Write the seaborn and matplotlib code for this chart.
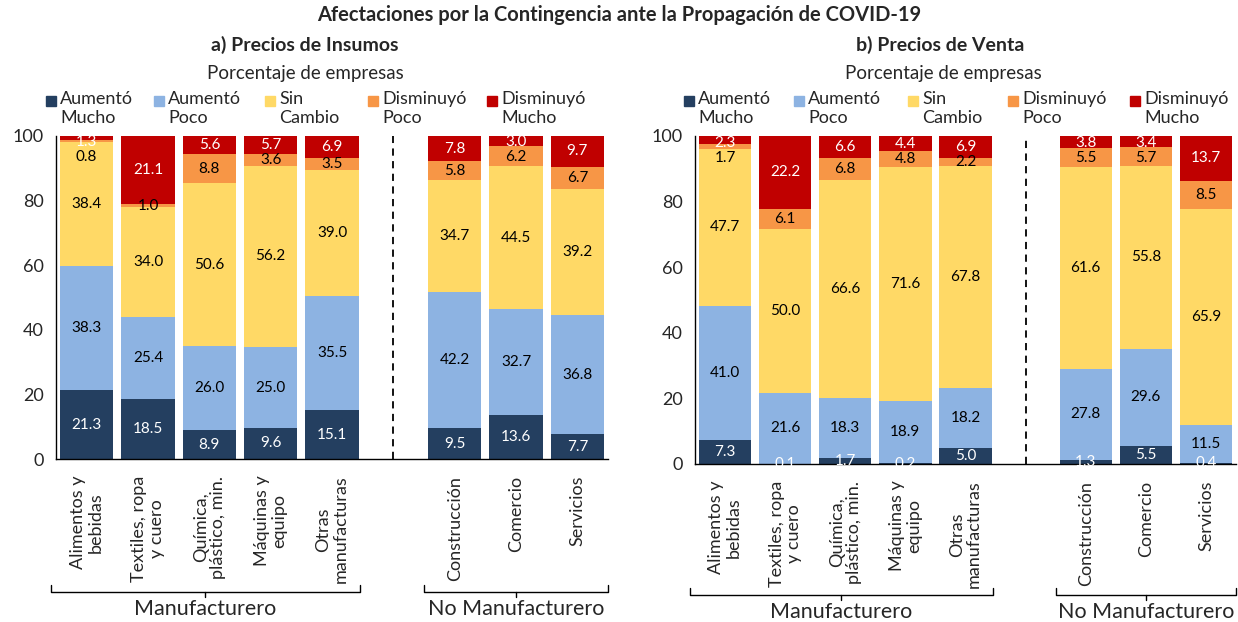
import numpy as np
import pandas as pd
import matplotlib
matplotlib.use('Agg')
import matplotlib.pyplot as plt
import matplotlib.transforms as mtransforms
import seaborn as sns

sectores = ['Alimentos y\nbebidas', 'Textiles, ropa\ny cuero', 'Química,\nplástico, min.',
            'Máquinas y\nequipo', 'Otras\nmanufacturas', 'Construcción', 'Comercio', 'Servicios']
hueco = ' '
orden = sectores[:5] + [hueco] + sectores[5:]
series = ['Aumentó\nMucho', 'Aumentó\nPoco', 'Sin\nCambio', 'Disminuyó\nPoco', 'Disminuyó\nMucho']

# a) Precios de Insumos
ins_aum_mucho = [21.3, 18.5, 8.9, 9.6, 15.1, 9.5, 13.6, 7.7]
ins_aum_poco = [38.3, 25.4, 26.0, 25.0, 35.5, 42.2, 32.7, 36.8]
ins_sin_cambio = [38.4, 34.0, 50.6, 56.2, 39.0, 34.7, 44.5, 39.2]
ins_dis_poco = [0.8, 1.0, 8.8, 3.6, 3.5, 5.8, 6.2, 6.7]
ins_dis_mucho = [1.3, 21.1, 5.6, 5.7, 6.9, 7.8, 3.0, 9.7]

# b) Precios de Venta
ven_aum_mucho = [7.3, 0.1, 1.7, 0.2, 5.0, 1.3, 5.5, 0.4]
ven_aum_poco = [41.0, 21.6, 18.3, 18.9, 18.2, 27.8, 29.6, 11.5]
ven_sin_cambio = [47.7, 50.0, 66.6, 71.6, 67.8, 61.6, 55.8, 65.9]
ven_dis_poco = [1.7, 6.1, 6.8, 4.8, 2.2, 5.5, 5.7, 8.5]
ven_dis_mucho = [2.3, 22.2, 6.6, 4.4, 6.9, 3.8, 3.4, 13.7]

colores = ['#243f60', '#8db3e2', '#ffd966', '#f79646', '#c00000']
color_texto = ['white', 'black', 'black', 'black', 'white']

sns.set_style('white')
plt.rcParams['font.family'] = ['Lato', 'DejaVu Sans']

W, H = 1238, 622
fig = plt.figure(figsize=(W / 100, H / 100), dpi=100)
ax1 = fig.add_axes([56/W, 1-459/H, 552/W, 323/H])
ax2 = fig.add_axes([695/W, 1-464/H, 541/W, 328/H])


def llave(ax, x0, x1, y, h, texto):
    tr = mtransforms.blended_transform_factory(ax.transData, ax.transAxes)
    xm = (x0 + x1) / 2
    ax.plot([x0, x0, x1, x1], [y + h, y, y, y + h], color='black', lw=1, transform=tr, clip_on=False)
    ax.plot([xm, xm], [y, y - h * 0.7], color='black', lw=1, transform=tr, clip_on=False)
    ax.text(xm, y - h * 2.3, texto, transform=tr, ha='center', va='center', fontsize=15.5)


def leyenda(x_cuadros):
    for i, serie in enumerate(series):
        x = x_cuadros[i]
        fig.add_artist(plt.Rectangle((x / W, 1 - 106 / H), 10 / W, 10 / H, color=colores[i],
                                     transform=fig.transFigure))
        fig.text((x + 14) / W, 1 - 91 / H, serie, ha='left', va='top', fontsize=13, linespacing=1.25)


def panel(ax, datos, y_llave):
    df = pd.DataFrame(dict(zip(series, datos)), index=sectores)
    acum = df.cumsum(axis=1)
    for i in range(len(series) - 1, -1, -1):
        sns.barplot(x=sectores, y=acum[series[i]].values, order=orden, color=colores[i],
                    saturation=1, width=0.87, errorbar=None, ax=ax, linewidth=0, edgecolor='none')
    for sector in sectores:
        pos = orden.index(sector)
        prev = None
        for i in range(len(series) - 1, -1, -1):
            serie = series[i]
            v = df.loc[sector, serie]
            yc = acum.loc[sector, serie] - v / 2
            yc = min(yc, 98.0)
            if prev is not None and prev - yc < 4.6:
                yc = prev - 4.6
            prev = yc
            ax.text(pos, yc, f'{v:.1f}', ha='center', va='center',
                    color=color_texto[i], fontsize=11)
    ax.vlines(orden.index(hueco), 0, 100, colors='black', linestyles=(0, (4, 3)), lw=1.3)
    ax.set_ylim(0, 100)
    ax.set_xlim(-0.5, len(orden) - 0.5)
    ax.set_yticks(range(0, 101, 20))
    ax.set_xticks(range(len(orden)))
    ax.set_xticklabels(orden, rotation=90, fontsize=13, ha='center', va='top', linespacing=1.1)
    ax.set_xticks(np.arange(-0.5, len(orden)), minor=True)
    ax.tick_params(axis='x', which='major', length=0, pad=12)
    ax.tick_params(axis='x', which='minor', length=7, width=1, color='black', direction='out')
    ax.tick_params(axis='y', length=6, width=1, color='black', direction='out', labelsize=13, pad=3)
    ax.set_xlabel('')
    ax.set_ylabel('')
    sns.despine(ax=ax)
    for lado in ['left', 'bottom']:
        ax.spines[lado].set_color('black')
        ax.spines[lado].set_linewidth(1)
    llave(ax, -0.58, 4.45, y_llave, 0.022, 'Manufacturero')
    llave(ax, 5.5, 8.5, y_llave, 0.022, 'No Manufacturero')


panel(ax1, [ins_aum_mucho, ins_aum_poco, ins_sin_cambio, ins_dis_poco, ins_dis_mucho], -0.413)
panel(ax2, [ven_aum_mucho, ven_aum_poco, ven_sin_cambio, ven_dis_poco, ven_dis_mucho], -0.40)

leyenda([46, 154, 265, 368, 487])
leyenda([684, 794, 908, 1008, 1130])

fig.text(0.5, 1-15/H, 'Afectaciones por la Contingencia ante la Propagación de COVID-19',
         ha='center', va='center', fontsize=14.5, fontweight='bold')
fig.text(305/W, 1-45/H, 'a) Precios de Insumos', ha='center', va='center', fontsize=14, fontweight='bold')
fig.text(940/W, 1-45/H, 'b) Precios de Venta', ha='center', va='center', fontsize=14, fontweight='bold')
fig.text(305/W, 1-73/H, 'Porcentaje de empresas', ha='center', va='center', fontsize=13.5)
fig.text(943/W, 1-73/H, 'Porcentaje de empresas', ha='center', va='center', fontsize=13.5)

fig.savefig('out.png', dpi=100)
